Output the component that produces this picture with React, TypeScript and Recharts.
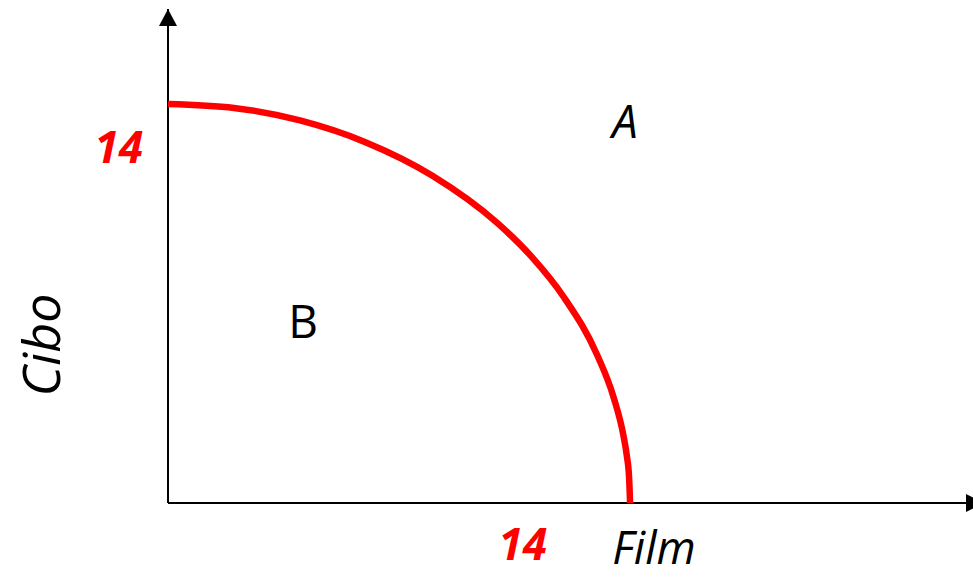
import { LineChart, Line, XAxis, YAxis, ReferenceDot, ReferenceLine, Customized } from 'recharts';

// quantità di film (x) e cibo (y) lungo la frontiera
const film = [0, 2, 4, 6, 8, 10, 11, 12, 13, 13.5, 13.8, 13.9, 13.97, 14];
const cibo = [14, 13.86, 13.42, 12.65, 11.49, 9.8, 8.66, 7.21, 5.2, 3.71, 2.36, 1.67, 0.9, 0];

const xMax = 24.39;
const yMax = 17.33;

const data = film.map((f, i) => ({ film: f, cibo: cibo[i] }));

const FONT = '"Open Sans", "DejaVu Sans", sans-serif';

function ArrowUp(props: { cx?: number; cy?: number }) {
  const { cx = 0, cy = 0 } = props;
  return <path d={`M${cx},${cy} L${cx - 9},${cy + 17} L${cx + 9},${cy + 17} Z`} fill="#000" />;
}

function ArrowRight(props: { cx?: number; cy?: number }) {
  const { cx = 0, cy = 0 } = props;
  return <path d={`M${cx + 11},${cy} L${cx - 7},${cy - 9} L${cx - 7},${cy + 9} Z`} fill="#000" />;
}

function Labels() {
  return (
    <g fontFamily={FONT}>
      <text x={143} y={163} textAnchor="end" fill="#ff0000" fontSize={44} fontWeight="bold" fontStyle="italic">
        14
      </text>
      <text x={547} y={560} textAnchor="end" fill="#ff0000" fontSize={44} fontWeight="bold" fontStyle="italic">
        14
      </text>
      <text x={654} y={564} textAnchor="middle" fill="#000" fontSize={45} fontStyle="italic">
        Film
      </text>
      <text x={60} y={345} textAnchor="middle" fill="#000" fontSize={52} fontStyle="italic" transform="rotate(-90 60 345)">
        Cibo
      </text>
      <text x={625} y={138} textAnchor="middle" fill="#000" fontSize={46} fontStyle="italic">
        A
      </text>
      <text x={303} y={338} textAnchor="middle" fill="#000" fontSize={46}>
        B
      </text>
    </g>
  );
}

export default function App() {
  return (
    <div style={{ position: 'absolute', left: 0, top: 0, width: 973, height: 578, background: '#fff' }}>
      <LineChart width={973} height={578} data={data} margin={{ top: 9, right: 0, bottom: 75, left: 168 }}>
        <XAxis type="number" dataKey="film" domain={[0, xMax]} hide />
        <YAxis type="number" domain={[0, yMax]} hide />
        <ReferenceLine
          segment={[{ x: 0, y: 0 }, { x: 0, y: yMax }]}
          stroke="#000"
          strokeWidth={2}
          ifOverflow="visible"
        />
        <ReferenceLine
          segment={[{ x: 0, y: 0 }, { x: xMax, y: 0 }]}
          stroke="#000"
          strokeWidth={2}
          ifOverflow="visible"
        />
        <Line
          type="monotone"
          dataKey="cibo"
          stroke="#ff0000"
          strokeWidth={6.5}
          dot={false}
          isAnimationActive={false}
        />
        <ReferenceDot x={0} y={yMax} ifOverflow="visible" shape={<ArrowUp />} />
        <ReferenceDot x={xMax} y={0} ifOverflow="visible" shape={<ArrowRight />} />
        <Customized component={<Labels />} />
      </LineChart>
    </div>
  );
}
